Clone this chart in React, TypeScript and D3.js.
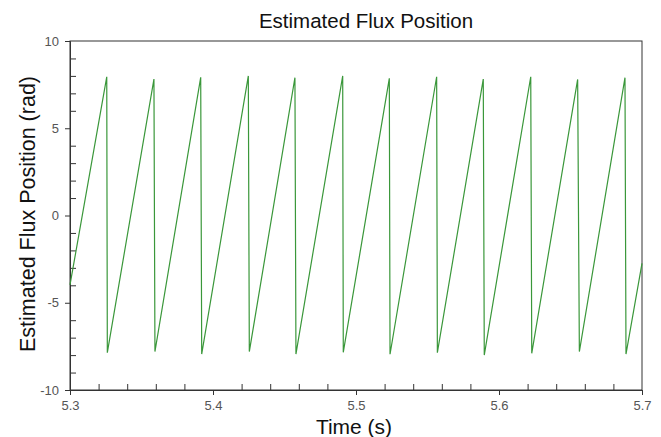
import React, { useEffect, useRef } from "react";
import * as d3 from "d3";

// sawtooth readings (time in s, flux position in rad)
const times = [
  5.3, 5.3257, 5.3261, 5.3587, 5.3594, 5.3914, 5.3921, 5.4247, 5.4254,
  5.4573, 5.458, 5.4907, 5.4911, 5.5233, 5.5238, 5.5564, 5.5569, 5.589,
  5.5897, 5.6222, 5.6229, 5.655, 5.6562, 5.6881, 5.6888, 5.7,
];
const flux = [
  -3.98, 7.95, -7.86, 7.82, -7.8, 7.92, -7.94, 8.0, -7.8, 7.9, -7.94, 8.0,
  -7.84, 7.86, -7.95, 7.95, -7.86, 7.82, -8.0, 7.95, -7.9, 7.8, -7.8, 7.9,
  -7.94, -2.74,
];
const xTicks = [5.3, 5.4, 5.5, 5.6, 5.7];
const yTicks = [-10, -5, 0, 5, 10];

const W = 661;
const H = 437;
const margin = { top: 41, right: 19, bottom: 47, left: 70 };
const FONT = "Arial, 'Liberation Sans', sans-serif";

const App = () => {
  const svgRef = useRef(null);

  useEffect(() => {
    const svg = d3.select(svgRef.current);
    svg.selectAll("*").remove();

    const x = d3
      .scaleLinear()
      .domain([5.3, 5.7])
      .range([margin.left, W - margin.right]);
    const y = d3
      .scaleLinear()
      .domain([-10, 10])
      .range([H - margin.bottom, margin.top]);

    const data = times.map((t, i) => [t, flux[i]]);

    // frame
    svg
      .append("rect")
      .attr("x", x(5.3))
      .attr("y", y(10))
      .attr("width", x(5.7) - x(5.3))
      .attr("height", y(-10) - y(10))
      .attr("fill", "none")
      .attr("stroke", "#333")
      .attr("stroke-width", 1);

    // minor ticks (inside)
    const xMinor = d3.range(0, 20).map((i) => 5.3 + i * 0.02).filter((_, i) => i % 5 !== 0);
    svg
      .append("g")
      .attr("transform", `translate(0,${y(-10)})`)
      .call(d3.axisTop(x).tickValues(xMinor).tickSize(6).tickFormat(() => ""))
      .call((g) => g.select(".domain").remove());
    svg
      .append("g")
      .attr("transform", `translate(${x(5.3)},0)`)
      .call(
        d3
          .axisRight(y)
          .tickValues(d3.range(-9, 10, 1).filter((v) => v % 5 !== 0))
          .tickSize(6)
          .tickFormat(() => "")
      )
      .call((g) => g.select(".domain").remove());

    // major axes
    const xAxis = svg
      .append("g")
      .attr("transform", `translate(0,${y(-10)})`)
      .call(d3.axisBottom(x).tickValues(xTicks).tickSize(5).tickPadding(6).tickFormat(d3.format(".1f")));
    const yAxis = svg
      .append("g")
      .attr("transform", `translate(${x(5.3)},0)`)
      .call(d3.axisLeft(y).tickValues(yTicks).tickSize(5).tickPadding(6).tickFormat((d) => String(d)));

    [xAxis, yAxis].forEach((g) => {
      g.select(".domain").attr("stroke", "#333");
      g.selectAll("text").attr("fill", "#555").attr("font-family", FONT).attr("font-size", 13);
    });
    svg.selectAll(".tick line").attr("stroke", "#333");

    // line
    const line = d3
      .line()
      .x((d) => x(d[0]))
      .y((d) => y(d[1]));
    svg
      .append("path")
      .datum(data)
      .attr("d", line)
      .attr("fill", "none")
      .attr("stroke", "#3a973a")
      .attr("stroke-width", 1.2);

    // titles
    svg
      .append("text")
      .attr("x", 366)
      .attr("y", 27.5)
      .attr("text-anchor", "middle")
      .attr("font-family", FONT)
      .attr("font-size", 20.5)
      .attr("fill", "#111")
      .text("Estimated Flux Position");
    svg
      .append("text")
      .attr("x", 354)
      .attr("y", 434)
      .attr("text-anchor", "middle")
      .attr("font-family", FONT)
      .attr("font-size", 21)
      .attr("fill", "#111")
      .text("Time (s)");
    svg
      .append("text")
      .attr("transform", `translate(35,214) rotate(-90)`)
      .attr("text-anchor", "middle")
      .attr("font-family", FONT)
      .attr("font-size", 21.5)
      .attr("fill", "#111")
      .text("Estimated Flux Position (rad)");
  }, []);

  return (
    <div style={{ position: "absolute", left: 0, top: 0 }}>
      <svg ref={svgRef} width={W} height={H} style={{ display: "block", background: "#fff" }} />
    </div>
  );
};

export default App;
